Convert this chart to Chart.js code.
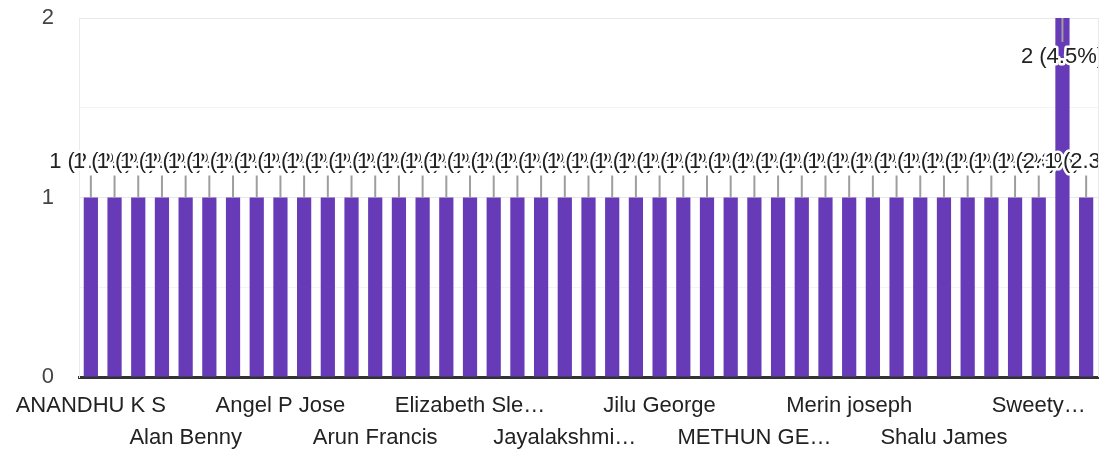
<!DOCTYPE html>
<html>
<head>
<meta charset="utf-8">
<script src="https://cdn.jsdelivr.net/npm/chart.js@4.4.1/dist/chart.umd.min.js"></script>
<style>
    body { margin: 0; background: #fff; }
    #wrap { width: 1103px; height: 453px; }
</style>
</head>
<body>
<div id="wrap"><canvas id="responsesChart"></canvas></div>
<script>
// names as Google Forms sorted them; only every 4th one is readable in the picture
const names = [
    "ANANDHU K S", "ANJALI M", "ASWATHY R", "Abhijith S",
    "Alan Benny", "Albin Thomas", "Amal Dev", "Anand K",
    "Angel P Jose", "Anju Joseph", "Ann Maria", "Aparna S",
    "Arun Francis", "Ashly Varghese", "Athira K", "Devika R",
    "Elizabeth Sle…", "Femy Jose", "Gopika S", "Jaison Paul",
    "Jayalakshmi…", "Jency Mary", "Jibin Thomas", "Jilna Joy",
    "Jilu George", "Jisha K", "Jobin Jose", "Liya Paul",
    "METHUN GE…", "Manju Mathew", "Meera K", "Melvin Joy",
    "Merin joseph", "Neethu S", "Priya Jose", "Reshma R",
    "Shalu James", "Sneha Mary", "Sreelakshmi", "Stephy Joy",
    "Sweety…", "Tintu Jose", "Vishnu Das",
];
const counts = [
    1, 1, 1, 1, 1, 1, 1, 1, 1, 1, 1, 1, 1, 1, 1, 1, 1, 1, 1, 1, 1, 1,
    1, 1, 1, 1, 1, 1, 1, 1, 1, 1, 1, 1, 1, 1, 1, 1, 1, 1, 1, 2, 1,
];
const yTicks = [0, 1, 2];

const total = counts.reduce((a, b) => a + b, 0);
const fontFamily = "'Liberation Sans', Arial, sans-serif";

// "1 (2.3%)" style annotations with a leader line and white halo
const annotations = {
    id: "annotations",
    afterDatasetsDraw(chart) {
        const ctx = chart.ctx;
        const area = chart.chartArea;
        const meta = chart.getDatasetMeta(0);
        ctx.save();
        ctx.beginPath();
        ctx.rect(0, 0, area.right, chart.height);
        ctx.clip();
        ctx.font = "22px " + fontFamily;
        ctx.textAlign = "center";
        ctx.textBaseline = "middle";
        ctx.lineJoin = "round";
        meta.data.forEach(function (bar, i) {
            const v = counts[i];
            const text = v + " (" + (v / total * 100).toFixed(1) + "%)";
            let lineFrom, lineTo, textY;
            if (bar.y - area.top > 45) {
                lineFrom = bar.y;
                lineTo = bar.y - 22;
                textY = bar.y - 36;
            } else {
                lineFrom = bar.y;
                lineTo = bar.y + 24;
                textY = bar.y + 39;
            }
            ctx.strokeStyle = "#9e9e9e";
            ctx.lineWidth = 2;
            ctx.beginPath();
            ctx.moveTo(bar.x, lineFrom);
            ctx.lineTo(bar.x, lineTo);
            ctx.stroke();
            ctx.strokeStyle = "#ffffff";
            ctx.lineWidth = 5;
            ctx.strokeText(text, bar.x, textY);
            ctx.fillStyle = "#222222";
            ctx.fillText(text, bar.x, textY);
        });
        ctx.restore();
    },
};

const rightEdge = {
    id: "rightEdge",
    beforeDatasetsDraw(chart) {
        const ctx = chart.ctx;
        const area = chart.chartArea;
        ctx.save();
        ctx.strokeStyle = "#ebebeb";
        ctx.lineWidth = 1;
        ctx.beginPath();
        ctx.moveTo(area.right + 0.5, area.top);
        ctx.lineTo(area.right + 0.5, area.bottom);
        ctx.stroke();
        ctx.restore();
    },
};

const config = {
    type: "bar",
    data: {
        labels: names,
        datasets: [{
            data: counts,
            backgroundColor: "#673ab7",
            borderWidth: 0,
            barPercentage: 0.6,
            categoryPercentage: 1,
        }],
    },
    options: {
        responsive: true,
        maintainAspectRatio: false,
        animation: false,
        layout: {
            padding: { top: 0, right: 5, left: 0, bottom: 0 },
        },
        plugins: {
            legend: { display: false },
            tooltip: { enabled: true },
        },
        scales: {
            x: {
                grid: { display: false },
                border: { color: "#333333", width: 3 },
                ticks: {
                    autoSkip: false,
                    maxRotation: 0,
                    minRotation: 0,
                    padding: 5,
                    color: "#222222",
                    font: { family: fontFamily, size: 22, lineHeight: "32px" },
                    callback: function (value, index) {
                        if (index % 4 !== 0) return "";
                        const label = names[index];
                        return (index / 4) % 2 === 0 ? label : ["", label];
                    },
                },
                afterFit: function (scale) {
                    scale.height = 76;
                },
            },
            y: {
                min: 0,
                max: 2,
                border: { color: "#ebebeb", width: 1 },
                grid: {
                    drawTicks: false,
                    color: function (c) {
                        return Number.isInteger(c.tick.value) ? "#e8e8e8" : "#f4f4f4";
                    },
                },
                ticks: {
                    stepSize: 0.5,
                    padding: 25,
                    color: "#444444",
                    font: { family: fontFamily, size: 22 },
                    callback: function (value) {
                        return yTicks.includes(value) ? String(value) : "";
                    },
                },
                afterFit: function (scale) {
                    scale.width = 79;
                    scale.paddingTop = 18;
                    scale.paddingBottom = 0;
                },
            },
        },
    },
    plugins: [rightEdge, annotations],
};

var responsesChart = new Chart(document.getElementById("responsesChart"), config);
</script>
</body>
</html>
